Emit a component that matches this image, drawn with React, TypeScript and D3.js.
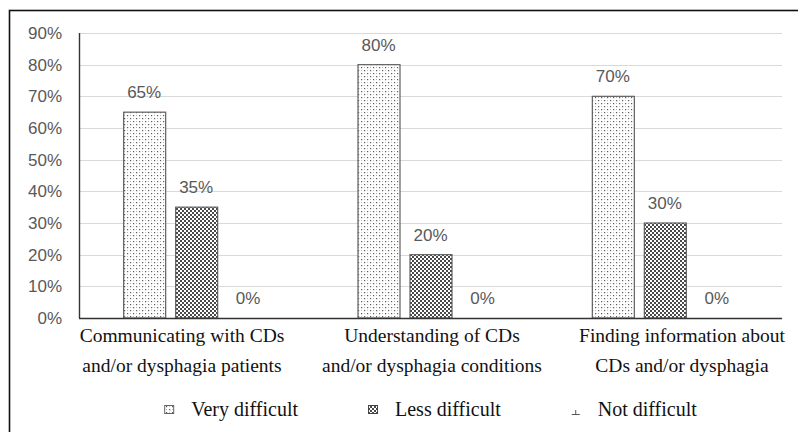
import React from "react";
import * as d3 from "d3";

// Chart data
const categories = [
  ["Communicating with CDs", "and/or dysphagia patients"],
  ["Understanding of CDs", "and/or dysphagia conditions"],
  ["Finding information about", "CDs and/or dysphagia"],
];
const seriesNames = ["Very difficult", "Less difficult", "Not difficult"];
const veryDifficult = [65, 80, 70];
const lessDifficult = [35, 20, 30];
const notDifficult = [0, 0, 0];
const yTicks = [0, 10, 20, 30, 40, 50, 60, 70, 80, 90];

const seriesValues = [veryDifficult, lessDifficult, notDifficult];
const fills = ["url(#dots)", "url(#checks)", "none"];

const W = 798;
const H = 432;
const plot = { left: 79, right: 782, top: 33, bottom: 318 };
const barWidth = 42;
const barGap = 10;

const sansFont = "Liberation Sans";
const serifFont = "Liberation Serif";

function measure(text: string, font: string): number {
  const c = document.createElement("canvas").getContext("2d");
  if (!c) return text.length * 9;
  c.font = font;
  return c.measureText(text).width;
}

export default function App() {
  const idx = categories.map((_, i) => i);
  const x = d3.scaleBand<number>().domain(idx).range([plot.left, plot.right]);
  const groupW = barWidth * 3 + barGap * 2;
  const inner = d3
    .scaleBand<number>()
    .domain([0, 1, 2])
    .range([0, groupW])
    .paddingInner(barGap / (barWidth + barGap));
  const y = d3.scaleLinear().domain([0, 90]).range([plot.bottom, plot.top]);

  // category labels are spread slightly wider than the plot area
  const labelX = d3
    .scaleBand<number>()
    .domain(idx)
    .range([plot.left - 22, plot.right + 25]);

  // legend layout
  const legendSize = 20;
  const legendFont = `${legendSize}px "${serifFont}"`;
  const markerW = 10;
  const markerGap = 17;
  const itemGap = 70;
  const widths = seriesNames.map(
    (s) => markerW + markerGap + measure(s, legendFont)
  );
  const totalW = d3.sum(widths) + itemGap * (widths.length - 1);
  const legendCenter = (plot.left + plot.right) / 2;
  let cursor = legendCenter - totalW / 2;
  const legendStarts = widths.map((w) => {
    const s = cursor;
    cursor += w + itemGap;
    return s;
  });
  const legendY = 410;

  const serifStyle = { fontFamily: serifFont };
  const sansStyle = { fontFamily: sansFont };

  return (
    <svg
      width={W}
      height={H}
      style={{ position: "absolute", left: 0, top: 0, background: "#fff" }}
    >
      <defs>
        <pattern id="dots" width="6" height="6" patternUnits="userSpaceOnUse">
          <rect width="6" height="6" fill="#fff" />
          <rect x="1" y="1" width="1.2" height="1.2" fill="#5a5a5a" />
          <rect x="4" y="4" width="1.2" height="1.2" fill="#5a5a5a" />
          <rect x="4" y="1" width="1" height="1" fill="#b0b0b0" />
          <rect x="1" y="4" width="1" height="1" fill="#c0c0c0" />
        </pattern>
        <pattern id="checks" width="4" height="4" patternUnits="userSpaceOnUse">
          <rect width="4" height="4" fill="#fff" />
          <rect x="0" y="0" width="2" height="2" fill="#4a4a4a" />
          <rect x="2" y="2" width="2" height="2" fill="#4a4a4a" />
        </pattern>
      </defs>

      {/* outer frame */}
      <rect x={9.5} y={10.5} width={W} height={H} fill="none" stroke="#111" strokeWidth={1.6} />

      {/* gridlines */}
      {yTicks.slice(1).map((t) => (
        <line
          key={t}
          x1={plot.left}
          x2={plot.right}
          y1={Math.round(y(t)) + 0.5}
          y2={Math.round(y(t)) + 0.5}
          stroke="#d9d9d9"
          strokeWidth={1}
        />
      ))}

      {/* y tick labels */}
      {yTicks.map((t) => (
        <text
          key={t}
          x={plot.left - 17}
          y={y(t)}
          dy="0.36em"
          textAnchor="end"
          style={sansStyle}
          fontSize={17}
          fill="#595959"
        >
          {t}%
        </text>
      ))}

      {/* bars and value labels */}
      {idx.map((ci) =>
        seriesValues.map((vals, si) => {
          const x0 = (x(ci) ?? 0) + (x.bandwidth() - groupW) / 2 + (inner(si) ?? 0);
          const v = vals[ci];
          return (
            <g key={`${ci}-${si}`}>
              {v > 0 && (
                <rect
                  x={x0 + 0.5}
                  y={y(v)}
                  width={inner.bandwidth()}
                  height={y(0) - y(v)}
                  fill={fills[si]}
                  stroke="#5f5f5f"
                  strokeWidth={1.2}
                />
              )}
              <text
                x={x0 + inner.bandwidth() / 2}
                y={y(v) - 14}
                textAnchor="middle"
                style={sansStyle}
                fontSize={17}
                fill="#595959"
              >
                {v}%
              </text>
            </g>
          );
        })
      )}

      {/* axes */}
      <line x1={plot.left + 0.5} x2={plot.left + 0.5} y1={plot.top} y2={plot.bottom} stroke="#333" strokeWidth={1.4} />
      <line x1={plot.left} x2={plot.right} y1={plot.bottom + 0.5} y2={plot.bottom + 0.5} stroke="#333" strokeWidth={1.6} />

      {/* category labels */}
      {categories.map((lines, ci) => (
        <text
          key={ci}
          x={(labelX(ci) ?? 0) + labelX.bandwidth() / 2}
          y={342}
          textAnchor="middle"
          style={serifStyle}
          fontSize={19.5}
          fill="#111"
        >
          {lines.map((l, li) => (
            <tspan key={li} x={(labelX(ci) ?? 0) + labelX.bandwidth() / 2} dy={li === 0 ? 0 : 30}>
              {l}
            </tspan>
          ))}
        </text>
      ))}

      {/* legend */}
      {seriesNames.map((name, si) => {
        const sx = legendStarts[si];
        return (
          <g key={name}>
            {si === 0 && (
              <rect x={sx + 0.5} y={legendY - 4.5} width={markerW - 1} height={8} fill="url(#dots)" stroke="#666" strokeWidth={1} />
            )}
            {si === 1 && (
              <rect x={sx + 0.5} y={legendY - 4.5} width={markerW - 1} height={8} fill="url(#checks)" stroke="#444" strokeWidth={1} />
            )}
            {si === 2 && (
              <g stroke="#555" strokeWidth={1}>
                <line x1={sx + 1} x2={sx + 9} y1={legendY + 4.5} y2={legendY + 4.5} />
                <line x1={sx + 5} x2={sx + 5} y1={legendY + 4.5} y2={legendY} />
              </g>
            )}
            <text
              x={sx + markerW + markerGap}
              y={legendY}
              dy="0.32em"
              style={serifStyle}
              fontSize={legendSize}
              fill="#111"
            >
              {name}
            </text>
          </g>
        );
      })}
    </svg>
  );
}
